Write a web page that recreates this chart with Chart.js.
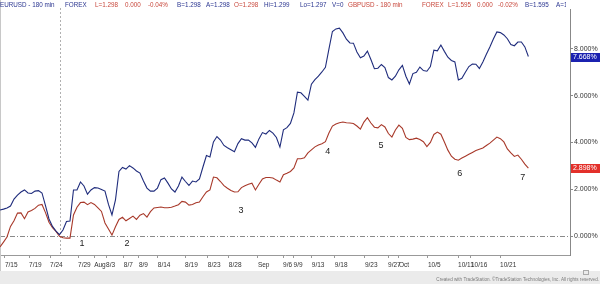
<!DOCTYPE html>
<html>
<head>
<meta charset="utf-8">
<script src="https://cdn.jsdelivr.net/npm/chart.js@4.4.1/dist/chart.umd.min.js"></script>
<style>
  html, body { margin: 0; padding: 0; background: #fff; }
  #wrap { width: 600px; height: 284px; position: relative; }
</style>
</head>
<body>
<div id="wrap"><canvas id="chart" width="600" height="284"></canvas></div>
<script>
// % change since start, one value every 4 bars (half a trading day)
var eurusd = [1.11, 1.15, 1.20, 1.28, 1.58, 1.75, 1.88, 1.97, 1.84, 1.82,
  1.92, 1.94, 1.84, 1.30, 0.73, 0.41, 0.21, 0.06, 0.26, 0.62,
  0.64, 1.97, 1.97, 2.31, 2.14, 1.79, 1.97, 2.07, 2.05, 1.99,
  1.92, 1.35, 0.90, 1.54, 2.76, 2.93, 2.86, 3.01, 2.91, 2.78,
  2.69, 2.35, 2.05, 1.92, 1.92, 2.05, 2.41, 2.48, 2.26, 2.01,
  1.88, 2.14, 2.52, 2.33, 2.16, 2.35, 2.31, 2.44, 2.95, 3.44,
  3.38, 4.02, 4.25, 4.10, 3.87, 3.77, 3.69, 3.60, 3.95, 4.16,
  4.10, 4.10, 3.98, 3.79, 4.15, 4.42, 4.36, 4.51, 4.40, 4.21,
  3.80, 4.54, 4.63, 4.81, 5.26, 6.15, 6.12, 5.97, 5.81, 6.49,
  6.68, 6.83, 7.01, 7.21, 7.99, 8.74, 8.85, 8.88, 8.68, 8.41,
  8.25, 8.24, 7.86, 7.62, 7.69, 7.90, 7.54, 7.15, 7.17, 7.33,
  7.20, 6.77, 6.67, 6.83, 7.10, 7.29, 6.83, 6.50, 6.94, 7.00,
  7.22, 7.07, 7.04, 7.24, 7.94, 7.91, 8.16, 7.89, 7.64, 7.50,
  7.44, 6.67, 6.74, 7.00, 7.24, 7.35, 7.34, 7.16, 7.44, 7.77,
  8.08, 8.42, 8.72, 8.69, 8.59, 8.43, 8.18, 8.13, 8.29, 8.29,
  8.08, 7.67];

var gbpusd = [-0.47, -0.26, -0.04, 0.41, 0.65, 0.98, 0.99, 0.74, 1.03, 1.09,
  1.18, 1.32, 1.35, 1.00, 0.59, 0.36, 0.20, -0.01, -0.07, -0.09,
  -0.09, 0.90, 1.23, 1.43, 1.45, 1.34, 1.43, 1.35, 1.20, 1.05,
  0.56, 0.30, 0.04, 0.40, 0.71, 0.80, 0.65, 0.75, 0.85, 0.71,
  0.89, 0.96, 0.81, 1.04, 1.20, 1.22, 1.24, 1.21, 1.21, 1.23,
  1.28, 1.34, 1.48, 1.45, 1.32, 1.35, 1.42, 1.45, 1.68, 1.88,
  1.97, 2.52, 2.49, 2.33, 2.15, 2.04, 1.95, 1.88, 1.89, 2.07,
  2.15, 2.21, 2.26, 1.97, 2.21, 2.44, 2.50, 2.50, 2.48, 2.39,
  2.31, 2.62, 2.68, 2.76, 2.91, 3.30, 3.30, 3.34, 3.55, 3.68,
  3.81, 3.89, 3.94, 4.03, 4.40, 4.70, 4.79, 4.84, 4.87, 4.84,
  4.83, 4.81, 4.70, 4.57, 4.87, 5.06, 4.83, 4.65, 4.62, 4.76,
  4.66, 4.38, 4.23, 4.53, 4.74, 4.60, 4.21, 4.12, 4.14, 4.18,
  4.12, 4.03, 3.82, 4.00, 4.34, 4.44, 4.35, 4.02, 3.67, 3.41,
  3.28, 3.24, 3.33, 3.41, 3.49, 3.57, 3.65, 3.71, 3.76, 3.87,
  3.97, 4.10, 4.23, 4.16, 4.02, 3.72, 3.55, 3.40, 3.46, 3.28,
  3.07, 2.90];

var lastLabels = ['7.668%', '2.898%'];

// date labels and where they sit (in half-day steps)
var tickLabels = ['7/15', '7/19', '7/24', '7/29', 'Aug', '8/3', '8/7', '8/9', '8/14', '8/19',
  '8/23', '8/28', 'Sep', '9/6', '9/9', '9/13', '9/18', '9/23', '9/27', 'Oct',
  '10/5', '10/11', '10/16', '10/21'];
var tickPos = [1.4, 8.3, 14.3, 22.3, 26.9, 30.3, 35.4, 39.7, 45.1, 52.9,
  59.4, 65.4, 73.7, 80.9, 83.9, 89.1, 95.7, 104.3, 110.9, 114.0,
  122.3, 130.9, 134.6, 142.9];
var yTicks = [0, 2, 4, 6, 8];

// numbered notes on the chart
var noteLabels = ['1', '2', '3', '4', '5', '6', '7'];
var noteX = [23.4, 36.3, 68.9, 93.7, 108.9, 131.4, 149.4];
var noteY = [-0.34, -0.34, 1.07, 3.59, 3.85, 2.69, 2.48];
var markerX = 17.1;

var FONT = '"Liberation Sans", Arial, sans-serif';
var BLUE = '#1f2c7c';
var RED = '#a8392a';
var TXT_BLUE = '#2a3590';
var TXT_RED = '#c8483c';

function toPoints(arr) {
  return arr.map(function (v, i) { return { x: i, y: v }; });
}

// header, footer, reference lines, notes and last value boxes
var extras = {
  id: 'extras',
  beforeDraw: function (chart) {
    var ctx = chart.ctx;
    ctx.save();
    ctx.fillStyle = '#ebebeb';
    ctx.fillRect(0, 271, 600, 13);
    ctx.fillStyle = '#7a7a7a';
    ctx.font = '4.6px ' + FONT;
    ctx.textAlign = 'right';
    ctx.textBaseline = 'middle';
    ctx.fillText('Created with TradeStation. \u00a9TradeStation Technologies, Inc. All rights reserved.', 599, 280);
    ctx.strokeStyle = '#aaa';
    ctx.strokeRect(583.5, 270.5, 5, 4);
    ctx.restore();
  },
  beforeDatasetsDraw: function (chart) {
    var ctx = chart.ctx, a = chart.chartArea;
    var xs = chart.scales.x, ys = chart.scales.y;
    ctx.save();
    ctx.strokeStyle = '#8a8a8a';
    ctx.lineWidth = 1;
    var y0 = Math.round(ys.getPixelForValue(0)) + 0.5;
    ctx.setLineDash([5, 2, 1, 2]);
    ctx.beginPath(); ctx.moveTo(a.left, y0); ctx.lineTo(a.right, y0); ctx.stroke();
    var mx = Math.round(xs.getPixelForValue(markerX)) + 0.5;
    ctx.setLineDash([2, 2]);
    ctx.strokeStyle = '#b0b0b0';
    ctx.beginPath(); ctx.moveTo(mx, 8); ctx.lineTo(mx, a.bottom); ctx.stroke();
    ctx.setLineDash([]);
    ctx.strokeStyle = '#c8c8c8';
    ctx.beginPath(); ctx.moveTo(0.5, 0); ctx.lineTo(0.5, 271); ctx.stroke();
    ctx.restore();
  },
  afterDraw: function (chart) {
    var ctx = chart.ctx;
    var xs = chart.scales.x, ys = chart.scales.y;
    ctx.save();
    ctx.textBaseline = 'middle';
    ctx.textAlign = 'left';
    ctx.font = '6.3px ' + FONT;
    var header = [
      ['EURUSD - 180 min', 0, TXT_BLUE], ['FOREX', 65, TXT_BLUE], ['L=1.298', 95, TXT_RED],
      ['0.000', 125, TXT_RED], ['-0.04%', 148, TXT_RED], ['B=1.298', 177, TXT_BLUE],
      ['A=1.298', 206, TXT_BLUE], ['O=1.298', 234, TXT_RED], ['Hi=1.299', 264, TXT_BLUE],
      ['Lo=1.297', 300, TXT_BLUE], ['V=0', 332, TXT_BLUE], ['GBPUSD - 180 min', 348, TXT_RED],
      ['FOREX', 422, TXT_RED], ['L=1.595', 448, TXT_RED], ['0.000', 477, TXT_RED],
      ['-0.02%', 498, TXT_RED], ['B=1.595', 525, TXT_BLUE]
    ];
    header.forEach(function (h) {
      ctx.fillStyle = h[2];
      ctx.fillText(h[0], h[1], 5);
    });
    ctx.save();
    ctx.beginPath(); ctx.rect(552, 0, 14, 10); ctx.clip();
    ctx.fillStyle = TXT_BLUE;
    ctx.fillText('A=1.595', 556, 5);
    ctx.restore();

    ctx.font = '9px ' + FONT;
    ctx.fillStyle = '#222';
    ctx.textAlign = 'center';
    noteLabels.forEach(function (t, i) {
      ctx.fillText(t, xs.getPixelForValue(noteX[i]), ys.getPixelForValue(noteY[i]));
    });

    var lasts = [eurusd[eurusd.length - 1], gbpusd[gbpusd.length - 1]];
    var fills = ['#1b22b0', '#e3302a'];
    ctx.font = '7px ' + FONT;
    ctx.textAlign = 'left';
    lasts.forEach(function (v, i) {
      var py = Math.round(ys.getPixelForValue(v));
      ctx.fillStyle = fills[i];
      ctx.fillRect(571, py - 4, 29, 9);
      ctx.fillStyle = '#fff';
      ctx.fillText(lastLabels[i], 573, py + 0.5);
    });
    ctx.restore();
  }
};

var config = {
  type: 'line',
  data: {
    datasets: [
      { label: 'EURUSD', data: toPoints(eurusd), borderColor: BLUE, borderWidth: 1.1, pointRadius: 0, tension: 0 },
      { label: 'GBPUSD', data: toPoints(gbpusd), borderColor: RED, borderWidth: 1.1, pointRadius: 0, tension: 0 }
    ]
  },
  options: {
    responsive: false,
    animation: false,
    layout: { padding: { top: 9, left: 0, right: 0, bottom: 0 } },
    plugins: { legend: { display: false }, tooltip: { enabled: false } },
    scales: {
      x: {
        type: 'linear',
        min: 0,
        max: 162.9,
        afterBuildTicks: function (scale) {
          scale.ticks = tickPos.map(function (p) { return { value: p }; });
        },
        afterFit: function (scale) { scale.height = 29; },
        ticks: {
          autoSkip: false,
          maxRotation: 0,
          align: 'start',
          padding: 3,
          color: '#333',
          font: { size: 6.5, family: FONT },
          callback: function (v, i) { return tickLabels[i]; }
        },
        grid: { drawOnChartArea: false, tickLength: 3, color: '#999' },
        border: { color: '#999' }
      },
      y: {
        position: 'right',
        min: -0.81,
        max: 9.70,
        afterBuildTicks: function (scale) {
          scale.ticks = yTicks.map(function (v) { return { value: v }; });
        },
        afterFit: function (scale) { scale.width = 30; },
        ticks: {
          padding: 1,
          color: '#333',
          font: { size: 7, family: FONT },
          callback: function (v) { return v.toFixed(3) + '%'; }
        },
        grid: { drawOnChartArea: false, tickLength: 3, color: '#888' },
        border: { color: '#888' }
      }
    }
  },
  plugins: [extras]
};

var myChart = new Chart(document.getElementById('chart'), config);
</script>
</body>
</html>
